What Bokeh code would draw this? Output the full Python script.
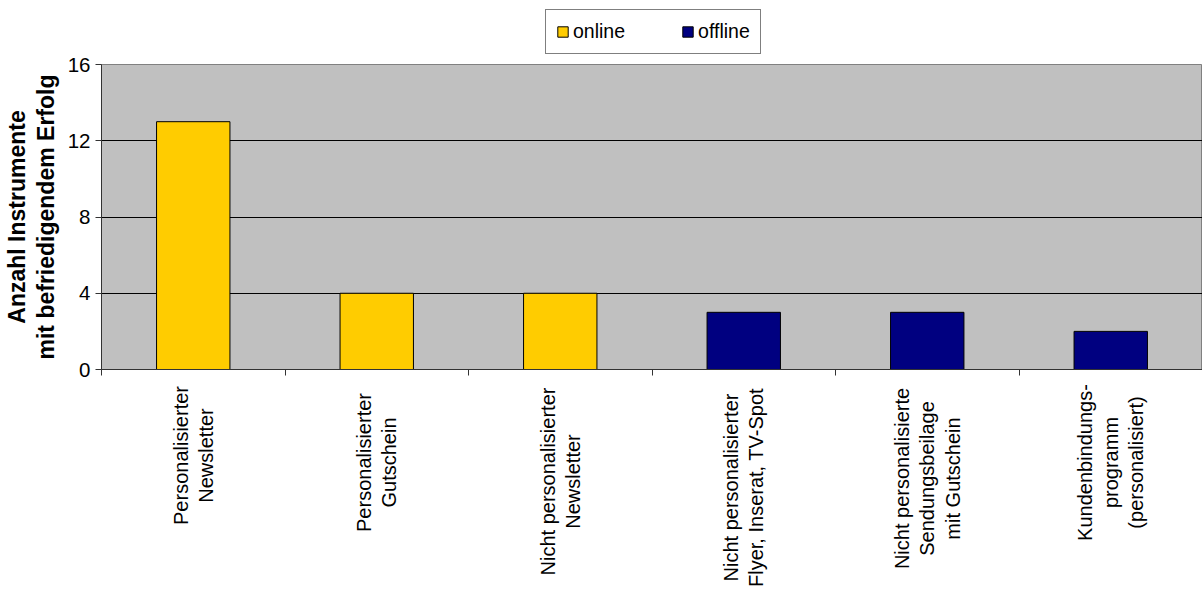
from math import pi

from bokeh.core.properties import value
from bokeh.embed import file_html
from bokeh.layouts import column
from bokeh.resources import INLINE
from bokeh.plotting import figure
from bokeh.models import (ColumnDataSource, Range1d, FixedTicker, Legend,
                          LegendItem)

# Instruments and how many of them were rated a satisfactory success
categories = [
    "Personalisierter\nNewsletter",
    "Personalisierter\nGutschein",
    "Nicht personalisierter\nNewsletter",
    "Nicht personalisierter\nFlyer, Inserat, TV-Spot",
    "Nicht personalisierte\nSendungsbeilage\nmit Gutschein",
    "Kundenbindungs-\nprogramm\n(personalisiert)",
]
counts = [13, 4, 4, 3, 3, 2]
channels = ["online", "online", "online", "offline", "offline", "offline"]
channel_order = ["online", "offline"]
y_ticks = [0, 4, 8, 12, 16]

channel_colors = {"online": "#FFCC00", "offline": "#000080"}
# vertical centre (px from the page top) of each rotated category label
label_centers = [455, 462, 481, 487, 478, 462]

FONT = "Liberation Sans"
W, H = 1202, 590
LEFT = 101            # room for the value axis
TOP_H = 54            # legend strip
FRAME_H = 305
MAIN_H = 10 + FRAME_H + 11
n = len(categories)

# each category occupies one unit slot; bars sit in the middle of their slot
slot_centers = [i + 0.5 for i in range(n)]


def strip(height, **kw):
    f = figure(frame_width=W - LEFT, frame_height=height,
               output_backend="svg", toolbar_location=None, **kw)
    f.min_border_left = LEFT
    f.min_border_right = 0
    f.min_border_top = 0
    f.min_border_bottom = 0
    f.axis.visible = False
    f.grid.visible = False
    f.outline_line_color = None
    f.background_fill_color = "white"
    f.border_fill_color = "white"
    return f


# ---- main chart -------------------------------------------------------------
p = figure(frame_width=W - LEFT, frame_height=FRAME_H,
           output_backend="svg", toolbar_location=None,
           x_range=Range1d(0, n), y_range=Range1d(0, 16))
p.min_border_left = LEFT
p.min_border_right = 0
p.min_border_top = 10
p.min_border_bottom = 11
p.background_fill_color = "#C0C0C0"
p.border_fill_color = "white"
p.outline_line_color = "#808080"
p.outline_line_width = 1

for ch in channel_order:
    idx = [i for i, c in enumerate(channels) if c == ch]
    src = ColumnDataSource(dict(x=[slot_centers[i] for i in idx],
                                top=[counts[i] for i in idx],
                                name=[categories[i] for i in idx]))
    p.vbar(x="x", top="top", bottom=0, width=0.4, source=src,
           fill_color=channel_colors[ch], line_color="black", line_width=1)

p.yaxis.ticker = FixedTicker(ticks=y_ticks)
p.yaxis.minor_tick_line_color = None
p.yaxis.major_tick_in = 0
p.yaxis.major_tick_out = 6
p.yaxis.axis_line_color = "#333333"
p.yaxis.major_tick_line_color = "#333333"
p.yaxis.major_label_text_font = FONT
p.yaxis.major_label_text_font_size = "20.5px"
p.yaxis.major_label_text_color = "black"
p.yaxis.major_label_standoff = 5
p.yaxis.axis_label = "Anzahl Instrumente\nmit befriedigendem Erfolg"
p.yaxis.axis_label_text_font = FONT
p.yaxis.axis_label_text_font_style = "bold"
p.yaxis.axis_label_text_font_size = "23px"
p.yaxis.axis_label_text_line_height = 1.1
p.yaxis.axis_label_text_color = "black"
p.yaxis.axis_label_standoff = 6

p.ygrid.ticker = FixedTicker(ticks=y_ticks)
p.ygrid.grid_line_color = "black"
p.ygrid.grid_line_width = 1
p.xgrid.grid_line_color = None

# tick marks on the slot boundaries; names are drawn in the strip below
p.xaxis.ticker = FixedTicker(ticks=list(range(n + 1)))
p.xaxis.major_label_text_font_size = "0px"
p.xaxis.major_label_text_alpha = 0
p.xaxis.minor_tick_line_color = None
p.xaxis.major_tick_in = 0
p.xaxis.major_tick_out = 6
p.xaxis.axis_line_color = "#333333"
p.xaxis.major_tick_line_color = "#333333"

# ---- legend strip -----------------------------------------------------------
top = strip(TOP_H, x_range=Range1d(0, W - LEFT), y_range=Range1d(0, TOP_H))
swatches = []
for ch in channel_order:
    # a zero-height bar left of the visible range carries the swatch style
    r = top.vbar(x=[-50], top=[0], bottom=0, width=1,
                 fill_color=channel_colors[ch], line_color="black", line_width=1)
    swatches.append(LegendItem(label=ch, renderers=[r]))
legend = Legend(items=swatches, orientation="horizontal", location=(444, 0))
legend.border_line_color = "black"
legend.border_line_width = 1
legend.background_fill_color = "white"
legend.background_fill_alpha = 1
legend.label_text_font = FONT
legend.label_text_font_size = "19.5px"
legend.label_text_color = "black"
legend.glyph_width = 13
legend.glyph_height = 13
legend.label_standoff = 4
legend.spacing = 56
legend.padding = 10
legend.margin = 0
legend.label_height = 22
top.add_layout(legend, "center")

# ---- category names strip ---------------------------------------------------
lab_h = H - TOP_H - MAIN_H
q = strip(lab_h, x_range=p.x_range, y_range=Range1d(0, lab_h))
q.text(x=slot_centers, y=[H - c for c in label_centers], text=categories,
       angle=pi / 2, text_align="center", text_baseline="middle",
       text_font=value(FONT), text_font_size="20px", text_line_height=1.15,
       text_color="black")

layout = column(top, p, q, spacing=0)
open("out.html", "w").write(file_html(layout, INLINE))
